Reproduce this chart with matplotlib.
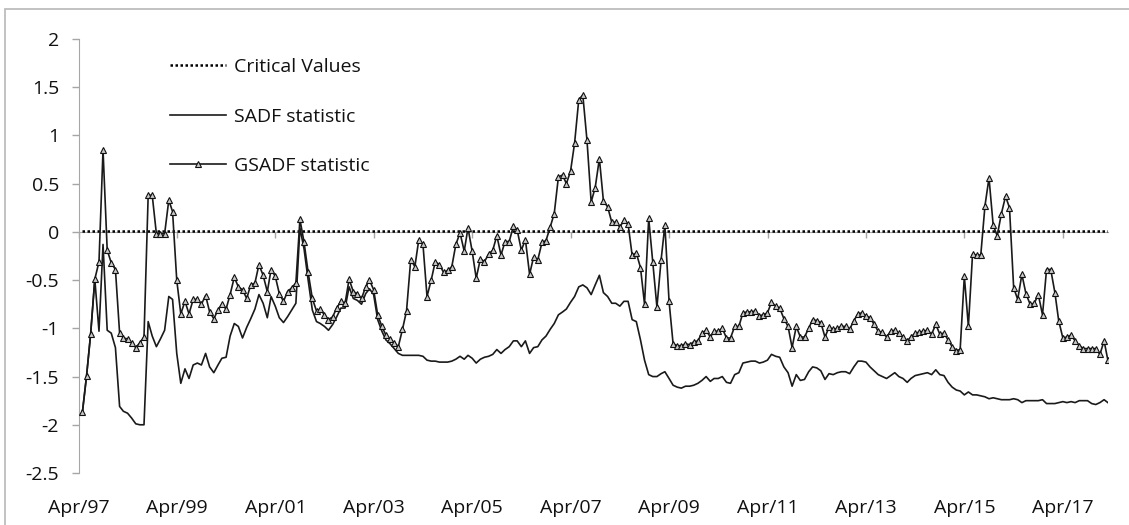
import numpy as np
import pandas as pd
import matplotlib
matplotlib.use("Agg")
import matplotlib.pyplot as plt
import matplotlib.dates as mdates
from matplotlib.patches import Rectangle

# monthly statistics, Apr 1997 - Feb 2018
gsadf = [
    -1.87, -1.49, -1.06, -0.49, -0.31, 0.85, -0.19, -0.32, -0.39, -1.05,
    -1.10, -1.11, -1.15, -1.20, -1.15, -1.09, 0.38, 0.38, -0.02, -0.02,
    -0.02, 0.33, 0.21, -0.50, -0.85, -0.72, -0.85, -0.70, -0.70, -0.75,
    -0.66, -0.83, -0.90, -0.81, -0.75, -0.80, -0.65, -0.47, -0.57, -0.60,
    -0.69, -0.55, -0.53, -0.34, -0.45, -0.62, -0.39, -0.46, -0.64, -0.72,
    -0.62, -0.58, -0.53, 0.13, -0.11, -0.42, -0.69, -0.82, -0.80, -0.86,
    -0.91, -0.88, -0.79, -0.72, -0.74, -0.49, -0.62, -0.64, -0.69, -0.57,
    -0.50, -0.60, -0.86, -0.98, -1.07, -1.11, -1.15, -1.19, -1.01, -0.82,
    -0.29, -0.36, -0.08, -0.13, -0.67, -0.50, -0.31, -0.34, -0.42, -0.40,
    -0.36, -0.13, -0.01, -0.20, 0.04, -0.20, -0.48, -0.28, -0.31, -0.23,
    -0.19, -0.04, -0.24, -0.10, -0.10, 0.06, 0.02, -0.19, -0.08, -0.44,
    -0.26, -0.29, -0.11, -0.09, 0.05, 0.19, 0.57, 0.59, 0.50, 0.63,
    0.92, 1.37, 1.42, 0.95, 0.31, 0.46, 0.76, 0.32, 0.26, 0.10,
    0.10, 0.05, 0.12, 0.08, -0.24, -0.22, -0.37, -0.75, 0.14, -0.31,
    -0.78, -0.29, 0.07, -0.72, -1.16, -1.18, -1.18, -1.16, -1.17, -1.14,
    -1.13, -1.05, -1.02, -1.09, -1.03, -1.03, -1.00, -1.10, -1.10, -0.98,
    -0.98, -0.84, -0.83, -0.83, -0.82, -0.87, -0.86, -0.84, -0.73, -0.77,
    -0.79, -0.90, -0.98, -1.20, -0.98, -1.09, -1.09, -1.00, -0.91, -0.92,
    -0.94, -1.09, -0.99, -1.01, -1.00, -0.98, -0.98, -1.01, -0.92, -0.85,
    -0.84, -0.87, -0.89, -0.96, -1.03, -1.04, -1.09, -1.03, -1.02, -1.05,
    -1.09, -1.13, -1.09, -1.05, -1.04, -1.03, -1.02, -1.06, -0.96, -1.06,
    -1.05, -1.12, -1.19, -1.23, -1.22, -0.46, -0.98, -0.23, -0.24, -0.24,
    0.27, 0.56, 0.07, -0.04, 0.19, 0.37, 0.25, -0.58, -0.70, -0.44,
    -0.64, -0.75, -0.74, -0.65, -0.86, -0.39, -0.39, -0.63, -0.92, -1.10,
    -1.09, -1.07, -1.13, -1.18, -1.21, -1.21, -1.21, -1.21, -1.27, -1.13,
    -1.33,
]

sadf = [
    -1.87, -1.49, -1.06, -0.49, -1.03, -0.13, -1.02, -1.05, -1.20, -1.81,
    -1.86, -1.88, -1.93, -1.99, -2.00, -2.00, -0.93, -1.08, -1.19, -1.11,
    -1.02, -0.67, -0.70, -1.26, -1.57, -1.42, -1.52, -1.38, -1.36, -1.38,
    -1.26, -1.40, -1.46, -1.38, -1.31, -1.30, -1.08, -0.95, -0.98, -1.10,
    -0.99, -0.90, -0.80, -0.65, -0.74, -0.89, -0.67, -0.77, -0.89, -0.94,
    -0.88, -0.81, -0.74, 0.04, -0.18, -0.50, -0.81, -0.93, -0.95, -0.98,
    -1.02, -0.96, -0.88, -0.79, -0.79, -0.57, -0.69, -0.71, -0.75, -0.64,
    -0.59, -0.65, -0.91, -1.03, -1.12, -1.16, -1.21, -1.26, -1.28, -1.28,
    -1.28, -1.28, -1.28, -1.29, -1.33, -1.34, -1.34, -1.35, -1.35, -1.35,
    -1.34, -1.32, -1.29, -1.32, -1.28, -1.31, -1.36, -1.32, -1.30, -1.29,
    -1.27, -1.22, -1.26, -1.22, -1.19, -1.13, -1.13, -1.19, -1.13, -1.26,
    -1.20, -1.19, -1.12, -1.08, -1.01, -0.95, -0.86, -0.83, -0.80, -0.73,
    -0.67, -0.57, -0.55, -0.58, -0.65, -0.55, -0.45, -0.63, -0.67, -0.74,
    -0.74, -0.77, -0.72, -0.72, -0.91, -0.93, -1.12, -1.33, -1.48, -1.50,
    -1.50, -1.47, -1.45, -1.52, -1.59, -1.61, -1.62, -1.60, -1.60, -1.59,
    -1.57, -1.54, -1.50, -1.55, -1.52, -1.52, -1.50, -1.56, -1.57, -1.48,
    -1.46, -1.36, -1.35, -1.34, -1.34, -1.36, -1.35, -1.33, -1.27, -1.29,
    -1.30, -1.40, -1.46, -1.60, -1.48, -1.54, -1.53, -1.45, -1.40, -1.41,
    -1.44, -1.53, -1.47, -1.48, -1.46, -1.45, -1.45, -1.47, -1.40, -1.34,
    -1.34, -1.35, -1.40, -1.44, -1.48, -1.50, -1.52, -1.49, -1.46, -1.50,
    -1.52, -1.56, -1.52, -1.49, -1.48, -1.47, -1.46, -1.48, -1.43, -1.48,
    -1.49, -1.56, -1.61, -1.64, -1.65, -1.69, -1.66, -1.69, -1.69, -1.70,
    -1.71, -1.73, -1.72, -1.73, -1.74, -1.74, -1.74, -1.73, -1.74, -1.77,
    -1.75, -1.75, -1.75, -1.75, -1.74, -1.78, -1.78, -1.78, -1.77, -1.76,
    -1.77, -1.76, -1.77, -1.75, -1.75, -1.75, -1.78, -1.79, -1.77, -1.74,
    -1.77,
]

critical_value = 0.01

dates = pd.date_range("1997-04-30", periods=len(gsadf), freq="ME")
tick_dates = pd.date_range("1997-04-01", "2017-04-01", freq="24MS")
y_ticks = [2, 1.5, 1, 0.5, 0, -0.5, -1, -1.5, -2, -2.5]
y_labels = ["2", "1.5", "1", "0.5", "0", "-0.5", "-1", "-1.5", "-2", "-2.5"]

plt.rcParams["font.family"] = ["Open Sans", "DejaVu Sans"]
W, H = 1129, 525
fig = plt.figure(figsize=(W / 100, H / 100), dpi=100)
ax = fig.add_axes([78.5 / W, 1 - 473 / H, (1108 - 78.5) / W, (473 - 39) / H])

# outer chart frame (partly cut off in the picture)
fig.patches.append(Rectangle((5 / W, -0.2), 1.2, 1.2 - 9 / H, transform=fig.transFigure,
                             fill=False, edgecolor="#bdbdbd", linewidth=1.3))

ax.plot(dates, [critical_value] * len(dates), color="black", linestyle=(0, (1, 1)),
        linewidth=1.8, label="Critical Values", zorder=3)
ax.plot(dates, sadf, color="#1a1a1a", linewidth=1.2, label="SADF statistic", zorder=4)
ax.plot(dates, gsadf, color="#1a1a1a", linewidth=1.2, marker="^", markersize=4.5,
        markerfacecolor="#c8c8c8", markeredgecolor="#111111", markeredgewidth=0.8,
        label="GSADF statistic", zorder=5)

ax.set_xlim(pd.Timestamp("1997-04-01"), pd.Timestamp("2018-03-01"))
ax.set_ylim(-2.5, 2)

ax.spines["top"].set_visible(False)
ax.spines["right"].set_visible(False)
ax.spines["left"].set_color("#a6a6a6")
ax.spines["bottom"].set_color("#a6a6a6")
ax.spines["bottom"].set_position(("data", 0))

ax.set_yticks(y_ticks)
ax.set_yticklabels(y_labels)
ax.set_xticks(tick_dates)
ax.xaxis.set_major_formatter(mdates.DateFormatter("%b/%y"))
ax.tick_params(axis="y", direction="out", length=5, width=1, color="#a6a6a6",
               labelsize=14, pad=9, labelcolor="#111111")
ax.tick_params(axis="x", direction="out", length=4, width=1, color="#a6a6a6",
               labelsize=14, pad=188, labelcolor="#111111")

leg = ax.legend(loc="upper left", bbox_to_anchor=(170 / W, 1 - 58 / H),
                bbox_transform=fig.transFigure, frameon=False, fontsize=14,
                handlelength=2.9, handletextpad=0.4, labelspacing=1.62,
                borderpad=0, borderaxespad=0, numpoints=1)
for t in leg.get_texts():
    t.set_color("#111111")

fig.savefig("out.png", dpi=100)
